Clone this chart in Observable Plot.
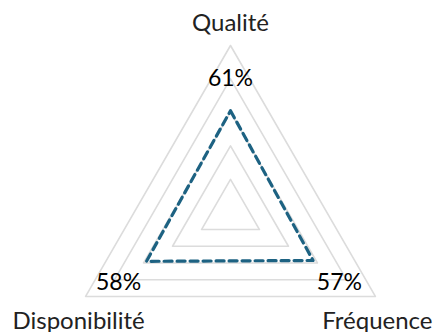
<!DOCTYPE html>
<html>
<head>
<meta charset="utf-8">
<script src="https://cdn.jsdelivr.net/npm/d3@7"></script>
<script src="https://cdn.jsdelivr.net/npm/@observablehq/plot@0.6"></script>
<style>
  html, body { margin: 0; padding: 0; background: #fff; }
  #chart { width: 435px; height: 332px; }
  svg { font-family: Lato, "Open Sans", sans-serif; }
</style>
</head>
<body>
<div id="chart"></div>
<script>
// Radar axes (clockwise from the top) and their scores
const axes = ["Qualité", "Fréquence", "Disponibilité"];
const scores = [0.61, 0.57, 0.58];
const scoreLabels = ["61%", "57%", "58%"];
const gridLevels = [0.2, 0.4, 0.6, 0.8, 1.0];

// Angle of each axis, in radians, starting at the top
const angleOf = i => Math.PI / 2 - i * 2 * Math.PI / axes.length;
const polar = (i, r) => ({x: r * Math.cos(angleOf(i)), y: r * Math.sin(angleOf(i))});

const gridRows = gridLevels.flatMap(level =>
  axes.map((a, i) => ({level, axis: a, ...polar(i, level)})));
const scoreRows = axes.map((a, i) => ({axis: a, value: scores[i], label: scoreLabels[i], ...polar(i, scores[i])}));
const axisRows = axes.map((a, i) => ({axis: a, ...polar(i, 1)}));
const pctRows = axes.map((a, i) => ({axis: a, label: scoreLabels[i], ...polar(i, 0.8)}));

// Pixel nudges of the labels away from the triangle's corners
const axisOffsets = {"Qualité": [0, -22], "Fréquence": [2, 25], "Disponibilité": [-7, 25]};
const pctOffsets = {"Qualité": [0, 0], "Fréquence": [-7, 3], "Disponibilité": [4, 3]};

const axisLabel = a => Plot.text(axisRows.filter(d => d.axis === a), {
  x: "x", y: "y", text: "axis",
  dx: axisOffsets[a][0], dy: axisOffsets[a][1],
  fontSize: 24, fill: "#222", textAnchor: "middle", lineAnchor: "middle"
});
const pctLabel = a => Plot.text(pctRows.filter(d => d.axis === a), {
  x: "x", y: "y", text: "label",
  dx: pctOffsets[a][0], dy: pctOffsets[a][1],
  fontSize: 23, fill: "#000", textAnchor: "middle", lineAnchor: "middle"
});

const R = 167.3;
const chart = Plot.plot({
  width: 435,
  height: 332,
  margin: 0,
  x: {domain: [-230 / R, 205 / R], axis: null},
  y: {domain: [-(332 - 212.3) / R, 212.3 / R], axis: null},
  marks: [
    Plot.line(gridRows, {x: "x", y: "y", z: "level", curve: "linear-closed",
      stroke: "#dcdcdc", strokeWidth: 1.6}),
    Plot.line(scoreRows, {x: "x", y: "y", curve: "linear-closed",
      stroke: "#1d6282", strokeWidth: 3.2, strokeDasharray: "8,5", strokeLinejoin: "round"}),
    ...axes.map(axisLabel),
    ...axes.map(pctLabel)
  ]
});
document.getElementById("chart").appendChild(chart);
</script>
</body>
</html>
